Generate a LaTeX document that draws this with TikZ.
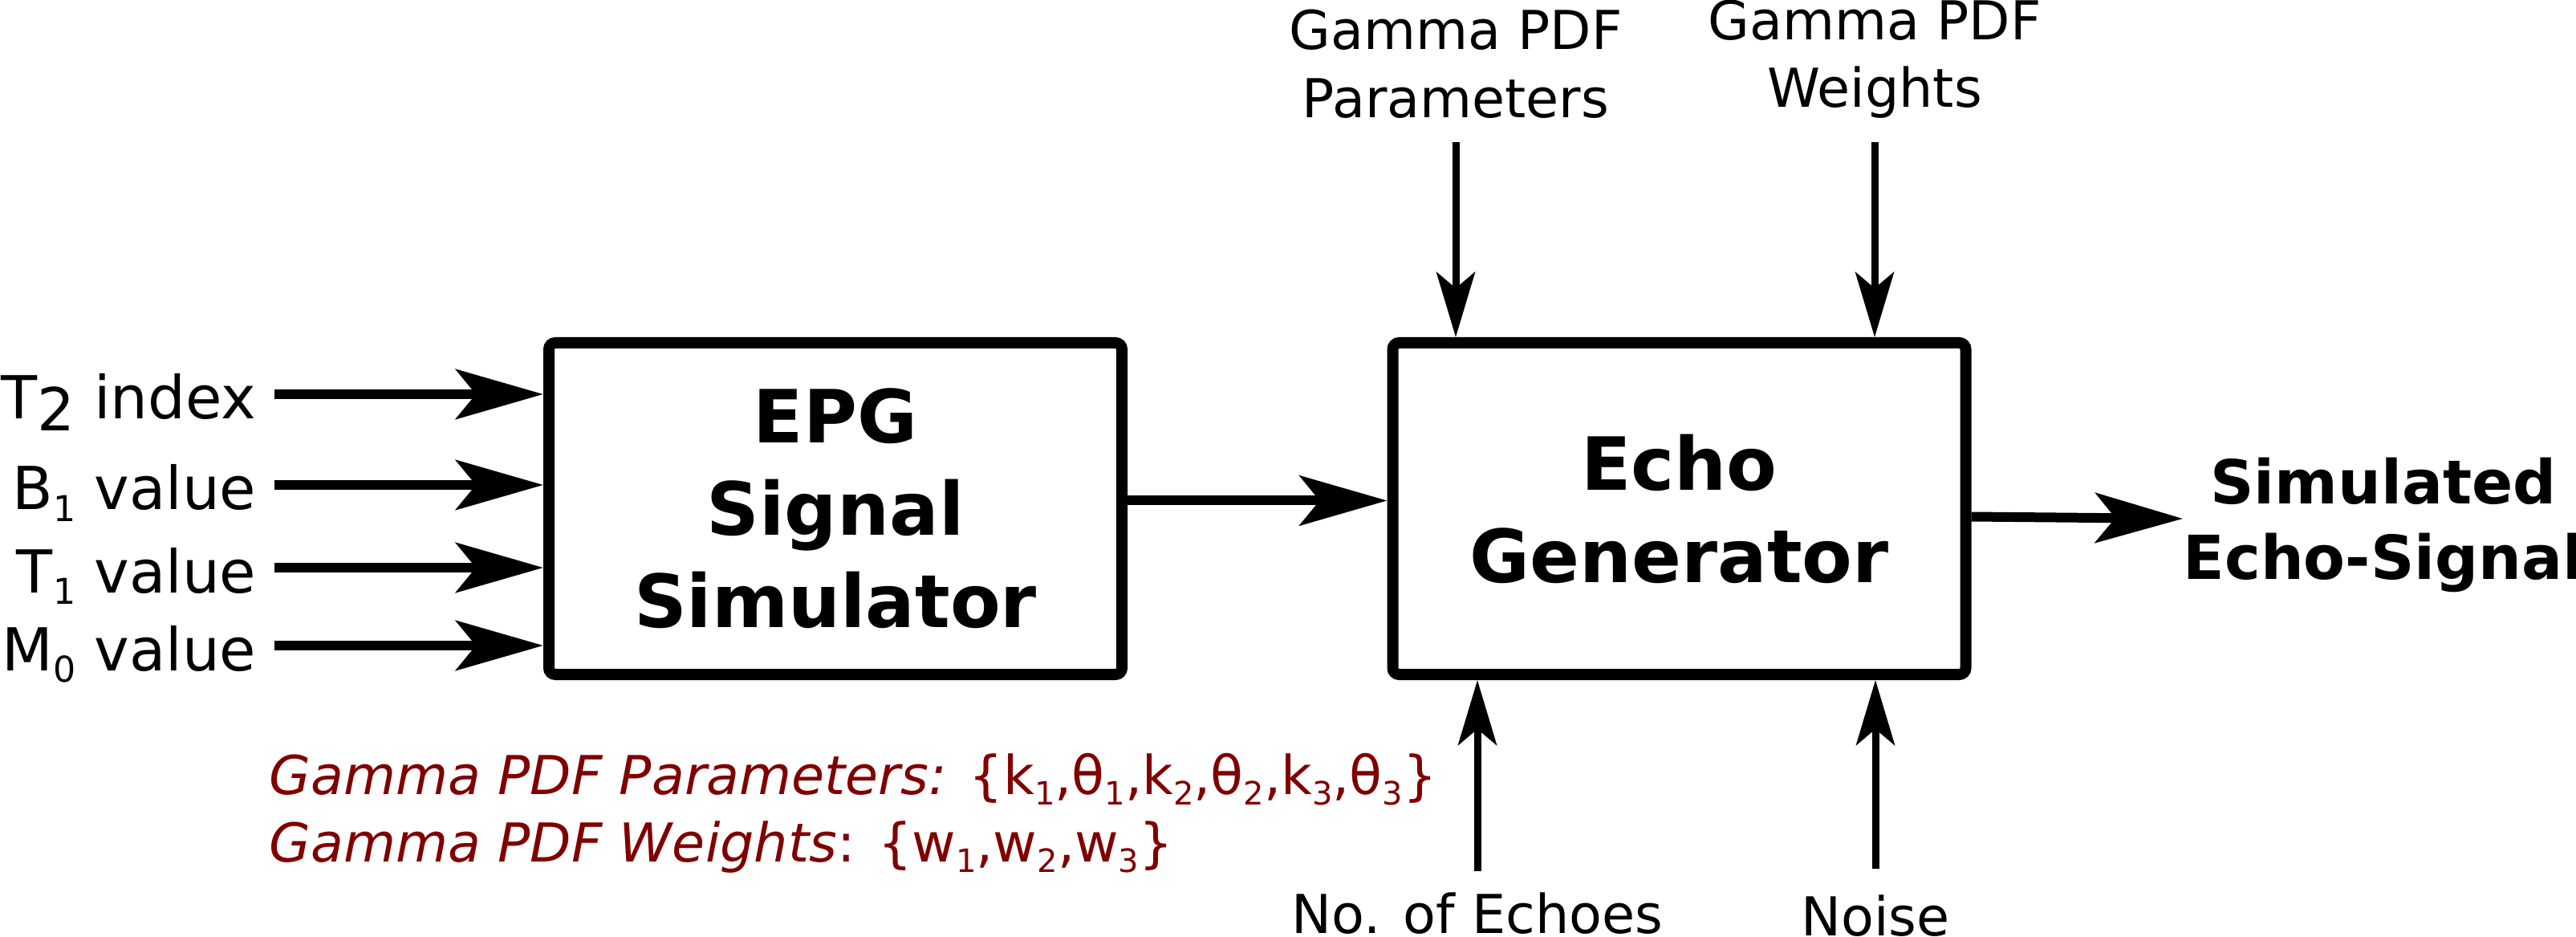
\documentclass[tikz,border=0pt]{standalone}
\usepackage{fontspec}
\setmainfont{DejaVu Sans}
\usepackage{graphicx}
\usepackage{xcolor}
\usepackage{tikz}
\usetikzlibrary{arrows.meta,positioning,calc}
\definecolor{darkred}{RGB}{128,0,0}
\newcommand{\lowidx}[1]{\raisebox{-0.2em}{\scalebox{0.6}{#1}}}

\begin{document}
\begin{tikzpicture}[
    auto,
    font=\fontsize{19}{24}\selectfont,
    block/.style={
		rectangle,
		rounded corners=0.8mm,
		draw=black,
		line width=1.4mm,
		minimum width=7.14cm,
		minimum height=4.13cm,
		align=center,
		inner sep=0pt,
		font=\fontsize{26}{32.7}\selectfont\bfseries
	},
	inlabel/.style={
		anchor=east,
		inner ysep=0pt,
		inner xsep=2.2mm,
		text height=6.2mm,
		text depth=0pt,
		font=\fontsize{21}{25}\selectfont
	},
	outlabel/.style={
		inner sep=0pt,
		align=center,
		text depth=0pt,
		font=\fontsize{21.5}{26.7}\selectfont\bfseries
	},
	plabel/.style={
		inner sep=0pt,
		align=center
	},
	note/.style={
		anchor=base west,
		inner sep=0pt,
		text=darkred
	},
	bigarrow/.style={
		line width=1.2mm,
		-{Stealth[length=10.9mm, width=6.2mm, inset=2.5mm]}
	},
	smallarrow/.style={
		line width=0.9mm,
		-{Stealth[length=8.1mm, width=4.8mm, inset=2mm]}
	}
  ]
  \useasboundingbox (0,0) rectangle (32.1,-11.67);

    % the two blocks
  \node [block] (epg) at (10.41,-6.335) {EPG\\Signal\\Simulator};
  \node [block] (echo) at (20.925,-6.335) {Echo\\Generator};

    % inputs of the simulator
  \node [inlabel] (t2) at (3.42,-4.91) {T\raisebox{-0.2em}{2} index};
  \node [inlabel] (b1) at (3.42,-6.04) {B\lowidx{1} value};
  \node [inlabel] (t1) at (3.42,-7.07) {T\lowidx{1} value};
  \node [inlabel] (m0) at (3.42,-8.04) {M\lowidx{0} value};

  \draw [bigarrow] (t2.east) -- (t2.east -| epg.west);
  \draw [bigarrow] (b1.east) -- (b1.east -| epg.west);
  \draw [bigarrow] (t1.east) -- (t1.east -| epg.west);
  \draw [bigarrow] (m0.east) -- (m0.east -| epg.west);

  \draw [bigarrow] ([yshift=1mm]epg.east) -- ([yshift=1mm]echo.west);

    % inputs of the echo generator
  \node [plabel, anchor=south] (gpar) at (18.14,-1.48) {Gamma PDF\\Parameters};
  \node [plabel, anchor=south] (gwt) at (23.36,-1.48) {Gamma PDF\\Weights};
  \node [plabel, anchor=base] (nech) at (18.41,-11.62) {No. of Echoes};
  \node [plabel, anchor=base] (noise) at (23.37,-11.65) {Noise};

  \draw [smallarrow, shorten <=2.9mm] (gpar.south) -- (gpar.south |- echo.north);
  \draw [smallarrow, shorten <=2.9mm] (gwt.south) -- (gwt.south |- echo.north);
  \draw [smallarrow, shorten <=2.6mm] (nech.north) -- (nech.north |- echo.south);
  \draw [smallarrow, shorten <=3.2mm] (noise.north) -- (noise.north |- echo.south);

    % output
  \node [outlabel] (out) at (29.7,-6.46) {Simulated\\Echo-Signal};
  \draw [bigarrow] ([yshift=-1mm]echo.east) -- (out.west);

    % parameter sets
  \node [note] (redpar) at (3.35,-9.89) {\textit{Gamma PDF Parameters:} \{k\lowidx{1},θ\lowidx{1},k\lowidx{2},θ\lowidx{2},k\lowidx{3},θ\lowidx{3}\}};
  \node [note] (redwt) at (3.35,-10.73) {\textit{Gamma PDF Weights}: \{w\lowidx{1},w\lowidx{2},w\lowidx{3}\}};

\end{tikzpicture}
\end{document}
